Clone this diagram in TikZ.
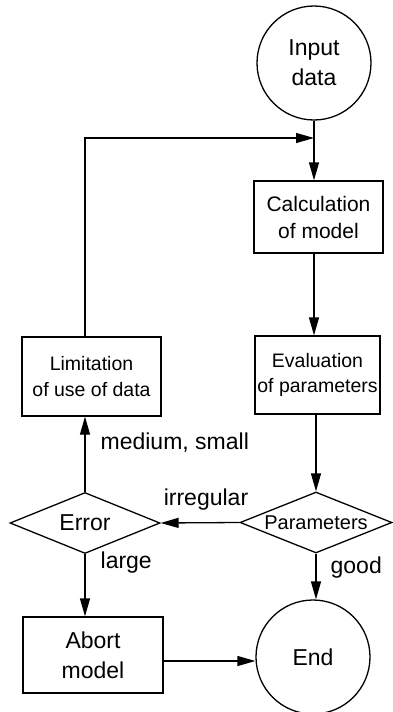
\documentclass[tikz,border=0pt]{standalone}
\usepackage{fontspec}
\setmainfont{Liberation Sans}
\usetikzlibrary{shapes.geometric,arrows.meta}
\begin{document}
\begin{tikzpicture}[x=1pt,y=-1pt,
 line width=1.3pt,
 every node/.style={inner sep=0pt, align=center},
 arr/.style={-{Triangle[length=18pt,width=10pt]}},
 circ/.style={draw,circle,minimum size=114pt,font=\fontsize{23}{30}\selectfont},
 box/.style={draw,rectangle},
 dia/.style={draw,diamond,shape aspect=2.5,font=\fontsize{20}{24}\selectfont},
 lbl/.style={font=\fontsize{23}{28}\selectfont}]
\useasboundingbox (0,0) rectangle (392,712);
\node[circ] (inp) at (314,63) {Input\\data};
\node[box,minimum width=129pt,minimum height=72pt,font=\fontsize{21}{27}\selectfont] (calc) at (318.5,217) {Calculation\\of model};
\node[box,minimum width=125pt,minimum height=78pt,font=\fontsize{19.5}{24.5}\selectfont] (eval) at (317.5,375) {Evaluation\\of parameters};
\node[box,minimum width=139pt,minimum height=79pt,font=\fontsize{19.5}{26.5}\selectfont] (lim) at (91.5,376.5) {Limitation\\of use of data};
\node[dia,minimum width=150pt,minimum height=61pt,font=\fontsize{23}{28}\selectfont] (err) at (85,523) {Error};
\node[dia,minimum width=152pt,minimum height=61pt] (par) at (316,522.5) {Parameters};
\node[box,minimum width=140pt,minimum height=76pt,font=\fontsize{23}{30}\selectfont] (abort) at (93,655) {Abort\\model};
\node[circ] (end) at (313,657) {End};
\coordinate (fb) at (314,138);
\draw[arr] (inp.south) -- (inp.south |- calc.north);
\draw[arr] (err.north |- lim.north) -- (err.north |- fb) -- (fb);
\draw[arr] (calc.south -| inp.south) -- (inp.south |- eval.north);
\draw[arr] (par.north |- eval.south) -- (par.north);
\draw[arr] (par.south) -- (par.south |- end.north);
\draw[arr] (par.west) -- (err.east);
\draw[arr] (err.south) -- (err.south |- abort.north);
\draw[arr] (err.north) -- (err.north |- lim.south);
\draw[arr] ([yshift=-6pt]abort.east) -- ([yshift=-6pt]abort.east -| end.west);
\node[lbl,anchor=west] (lms) at (100,443) {medium, small};
\node[lbl] (lirr) at (206,500) {irregular};
\node[lbl,anchor=west] (llarge) at (100,563) {large};
\node[lbl,anchor=west] (lgood) at (330,568) {good};
\end{tikzpicture}
\end{document}
